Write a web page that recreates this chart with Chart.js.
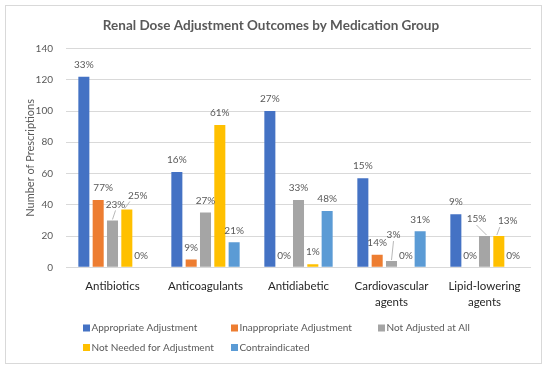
<!DOCTYPE html>
<html>
<head>
<meta charset="utf-8">
<script src="https://cdn.jsdelivr.net/npm/chart.js@4"></script>
<style>
  html, body { margin: 0; padding: 0; background: #ffffff; }
  #wrap { position: relative; width: 550px; height: 369px; }
</style>
</head>
<body>
<div id="wrap"><canvas id="c" width="550" height="369"></canvas></div>
<script>
// ---- data ----
const chartTitle = 'Renal Dose Adjustment Outcomes by Medication Group';
const yAxisTitle = 'Number of Prescriptions';
const categories = [['Antibiotics'], ['Anticoagulants'], ['Antidiabetic'], ['Cardiovascular', 'agents'], ['Lipid-lowering', 'agents']];
const seriesNames = ['Appropriate Adjustment', 'Inappropriate Adjustment', 'Not Adjusted at All', 'Not Needed for Adjustment', 'Contraindicated'];
const appropriate = [122, 61, 100, 57, 34];
const inappropriate = [43, 5, 0, 8, 0];
const notAdjusted = [30, 35, 43, 4, 20];
const notNeeded = [37, 91, 2, 0, 20];
const contraindicated = [0, 16, 36, 23, 0];
const pctAppropriate = ['33%', '16%', '27%', '15%', '9%'];
const pctInappropriate = ['77%', '9%', '0%', '14%', '0%'];
const pctNotAdjusted = ['23%', '27%', '33%', '3%', '15%'];
const pctNotNeeded = ['25%', '61%', '1%', '0%', '13%'];
const pctContraindicated = ['0%', '21%', '48%', '31%', '0%'];
const yMin = 0, yMax = 140, yStep = 20;

// ---- style ----
const FONT = 'Lato, "Open Sans", sans-serif';
const colors = ['#4472C4', '#ED7D31', '#A5A5A5', '#FFC000', '#5B9BD5'];
const seriesValues = [appropriate, inappropriate, notAdjusted, notNeeded, contraindicated];
const seriesPct = [pctAppropriate, pctInappropriate, pctNotAdjusted, pctNotNeeded, pctContraindicated];

// label placement tweaks (dataset,index) -> offsets in px; leader = draw connector line
const labelTweaks = {
  '1,0': { dx: 5, dy: 0 },
  '2,0': { dx: 3, dy: -4, leader: true },
  '3,0': { dx: 11, dy: -2, leader: true },
  '2,3': { dx: 2, dy: -14, leader: true },
  '2,4': { dx: -8, dy: -5, leader: true },
  '3,4': { dx: 9, dy: -3, leader: true }
};

const frameAndTitle = {
  id: 'frameAndTitle',
  beforeDraw(chart) {
    const ctx = chart.ctx;
    ctx.save();
    ctx.fillStyle = '#ffffff';
    ctx.fillRect(0, 0, chart.width, chart.height);
    ctx.strokeStyle = '#d9d9d9';
    ctx.lineWidth = 1;
    ctx.strokeRect(5.5, 5.5, 536, 358);
    ctx.fillStyle = '#595959';
    ctx.font = 'bold 13.5px ' + FONT;
    ctx.textAlign = 'center';
    ctx.textBaseline = 'middle';
    ctx.fillText(chartTitle, 271, 26);
    ctx.restore();
  }
};

const barLabels = {
  id: 'barLabels',
  afterDatasetsDraw(chart) {
    const ctx = chart.ctx;
    ctx.save();
    ctx.font = '10px ' + FONT;
    ctx.fillStyle = '#595959';
    ctx.textAlign = 'center';
    ctx.textBaseline = 'middle';
    chart.data.datasets.forEach((ds, di) => {
      const meta = chart.getDatasetMeta(di);
      meta.data.forEach((bar, i) => {
        const t = labelTweaks[di + ',' + i] || { dx: 0, dy: 0 };
        const lx = bar.x + t.dx;
        const ly = bar.y - 12 + t.dy;
        if (t.leader) {
          ctx.strokeStyle = '#a6a6a6';
          ctx.lineWidth = 0.8;
          ctx.beginPath();
          ctx.moveTo(lx - (t.dx > 4 ? 8 : 0), ly + 6);
          ctx.lineTo(bar.x + (t.dx > 4 ? -2 : (t.dx < -4 ? 2 : 0)), bar.y - 1);
          ctx.stroke();
        }
        ctx.fillText(seriesPct[di][i], lx, ly);
      });
    });
    ctx.restore();
  }
};

const customLegend = {
  id: 'customLegend',
  afterDraw(chart) {
    const ctx = chart.ctx;
    ctx.save();
    ctx.font = '10px ' + FONT;
    ctx.fillStyle = '#595959';
    ctx.textBaseline = 'middle';
    ctx.textAlign = 'left';
    const colX = [83, 231, 378];
    const rowY = [328, 347.5];
    chart.data.datasets.forEach((ds, i) => {
      const x = colX[i % 3];
      const y = rowY[Math.floor(i / 3)];
      ctx.fillStyle = ds.backgroundColor;
      ctx.fillRect(x, y - 3.5, 7, 7);
      ctx.fillStyle = '#595959';
      ctx.fillText(ds.label, x + 8.5, y);
    });
    ctx.restore();
  }
};

new Chart(document.getElementById('c'), {
  type: 'bar',
  data: {
    labels: categories,
    datasets: seriesNames.map((name, i) => ({
      label: name,
      data: seriesValues[i],
      backgroundColor: colors[i],
      borderWidth: 0,
      barPercentage: 0.77,
      categoryPercentage: 0.77
    }))
  },
  options: {
    responsive: false,
    animation: false,
    devicePixelRatio: 1,
    layout: { padding: { left: 5, right: 19, top: 48.5, bottom: 56.7 } },
    plugins: {
      legend: { display: false },
      title: { display: false },
      tooltip: { enabled: false }
    },
    scales: {
      x: {
        grid: { display: false, drawTicks: false },
        border: { display: false },
        ticks: {
          color: '#262626',
          font: { family: FONT, size: 11.5, lineHeight: 1.4 },
          padding: 11,
          maxRotation: 0,
          autoSkip: false
        },
        afterFit(scale) { scale.height = 45; }
      },
      y: {
        min: yMin,
        max: yMax,
        grid: { color: '#d9d9d9', lineWidth: 1, drawTicks: false },
        border: { display: false },
        ticks: {
          stepSize: yStep,
          color: '#595959',
          font: { family: FONT, size: 10 },
          padding: 13
        },
        title: {
          display: true,
          text: yAxisTitle,
          color: '#595959',
          font: { family: FONT, size: 11 },
          padding: { top: 19, bottom: 0 }
        },
        afterFit(scale) { scale.width = 61; }
      }
    }
  },
  plugins: [frameAndTitle, barLabels, customLegend]
});
</script>
</body>
</html>
